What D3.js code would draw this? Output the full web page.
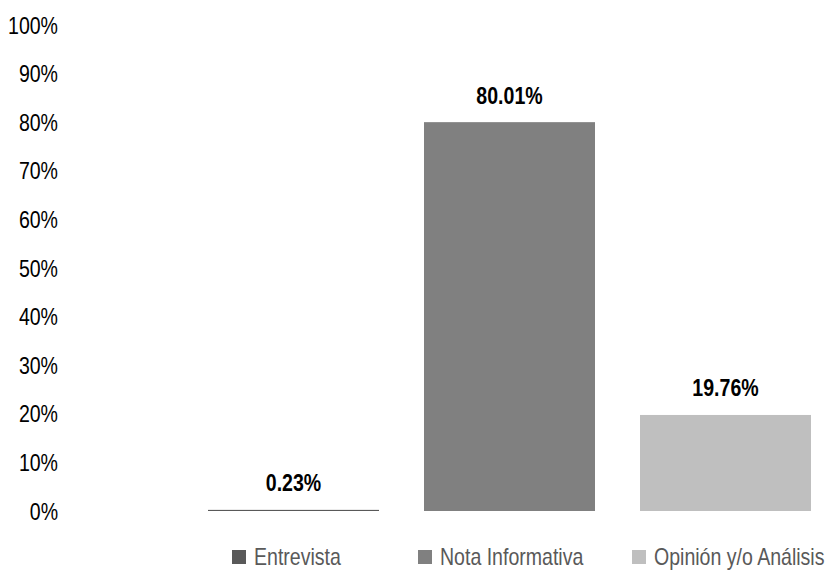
<!DOCTYPE html>
<html><head><meta charset="utf-8">
<script src="https://cdn.jsdelivr.net/npm/d3@7"></script>
<style>
html,body{margin:0;padding:0;background:#fff;}
svg{display:block;font-family:"Liberation Sans",Arial,sans-serif;}
</style></head><body>
<svg id="chart" width="832" height="570"></svg>
<script>
const categories = ["Entrevista", "Nota Informativa", "Opinión y/o Análisis"];
const values = [0.23, 80.01, 19.76];
const valueLabels = ["0.23%", "80.01%", "19.76%"];
const colors = ["#595959", "#808080", "#bfbfbf"];
const yTicks = [0, 10, 20, 30, 40, 50, 60, 70, 80, 90, 100];

const SX = 0.85; // narrow-font emulation
const FS = 23;
const svg = d3.select("#chart");
const y = d3.scaleLinear().domain([0, 100]).range([511, 25]);
const x = d3.scaleBand().domain(categories).range([185.5, 833.5]).paddingInner(0.2083).paddingOuter(0.1042);

const yAxis = d3.axisLeft(y).tickValues(yTicks).tickFormat(d => d + "%").tickSize(0).tickPadding(0);
const ga = svg.append("g").attr("transform", "translate(58,0)").call(yAxis);
ga.select(".domain").remove();
ga.selectAll("text").attr("font-size", FS).attr("fill", "#000").attr("font-family", null)
  .attr("dy", "0.35em").attr("x", 0).attr("transform", `scale(${SX},1)`);

svg.selectAll("rect.bar").data(categories).join("rect").attr("class", "bar")
  .attr("x", d => x(d)).attr("width", x.bandwidth())
  .attr("y", (d, i) => y(values[i])).attr("height", (d, i) => y(0) - y(values[i]))
  .attr("fill", (d, i) => colors[i]);

svg.selectAll("text.val").data(categories).join("text").attr("class", "val")
  .attr("transform", (d, i) => `translate(${x(d) + x.bandwidth() / 2},${y(values[i]) - 18.5}) scale(${SX},1)`)
  .attr("text-anchor", "middle").attr("font-size", FS).attr("font-weight", "bold").attr("fill", "#000")
  .text((d, i) => valueLabels[i]);

const legX = [232, 418, 632];
const lg = svg.selectAll("g.leg").data(categories).join("g").attr("class", "leg")
  .attr("transform", (d, i) => `translate(${legX[i]},550)`);
lg.append("rect").attr("width", 14).attr("height", 14).attr("fill", (d, i) => colors[i]);
lg.append("text").attr("transform", `translate(22,15) scale(${SX},1)`).attr("font-size", FS).attr("fill", "#595959").text(d => d);
</script>
</body></html>
